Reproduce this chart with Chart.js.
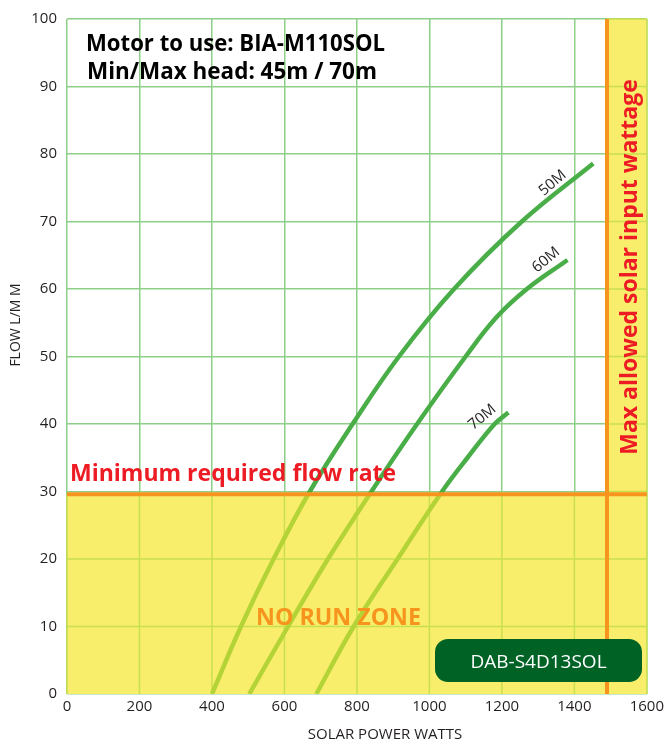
<!DOCTYPE html>
<html>
<head>
<meta charset="utf-8">
<script src="https://cdn.jsdelivr.net/npm/chart.js@4.4.1/dist/chart.umd.min.js"></script>
<style>
html,body{margin:0;padding:0;background:#fff;}
#wrap{width:668px;height:740px;position:relative;}
</style>
</head>
<body>
<div id="wrap"><canvas id="c" width="668" height="740"></canvas></div>
<script>
// ---- data ----
const seriesNames = ['50M', '60M', '70M'];
const watts50 = [400, 480, 570, 670, 788, 916, 1068, 1255, 1452];
const flow50  = [0, 10, 20, 30, 40, 50, 60, 70, 78.6];
const watts60 = [503, 610, 720, 840, 966, 1100, 1185, 1269, 1381];
const flow60  = [0, 10, 20, 30, 40, 50, 55.8, 60, 64.3];
const watts70 = [688, 791, 912, 1035, 1105, 1180, 1218];
const flow70  = [0, 10, 20, 30, 35, 40, 41.7];
const minFlow = 29.6;      // minimum required flow rate
const maxWatts = 1490;     // max allowed solar input wattage
const xTicks = [0, 200, 400, 600, 800, 1000, 1200, 1400, 1600];
const yTicks = [0, 10, 20, 30, 40, 50, 60, 70, 80, 90, 100];
// label anchors (data coords) for the curve names
const labelWatts = [1340, 1322, 1146];
const labelFlow  = [75.7, 64.3, 41.0];

const DARK = '#4aae48', LIGHT = '#b4d336', YELLOW = '#f8ee6c',
      GRID = '#8dcf87', GRID_Y = '#c8df4e', ORANGE = '#f7941d', RED = '#ed1c24', INK = '#231f20';
const FONT = "'Open Sans', 'Liberation Sans', sans-serif";

function pts(w, f){ return w.map((x,i)=>({x:x, y:f[i]})); }

function curveColor(ctx){
  const chart = ctx.chart, a = chart.chartArea;
  if(!a) return DARK;
  const y = chart.scales.y.getPixelForValue(minFlow);
  const t = Math.min(1, Math.max(0, (y - a.top)/(a.bottom - a.top)));
  const g = chart.ctx.createLinearGradient(0, a.top, 0, a.bottom);
  g.addColorStop(0, DARK); g.addColorStop(t, DARK);
  g.addColorStop(t, LIGHT); g.addColorStop(1, LIGHT);
  return g;
}

const zones = {
  id: 'zones',
  beforeDatasetsDraw(chart){
    const {ctx, chartArea:a, scales:{x, y}} = chart;
    const yMin = y.getPixelForValue(minFlow);
    const xMax = x.getPixelForValue(maxWatts);
    ctx.save();
    ctx.fillStyle = YELLOW;
    ctx.fillRect(a.left, yMin, a.right - a.left, a.bottom - yMin);
    ctx.fillRect(xMax, a.top, a.right - xMax, a.bottom - a.top);
    ctx.strokeStyle = GRID_Y; ctx.lineWidth = 1.5;
    ctx.beginPath();
    xTicks.forEach(v => {
      const px = x.getPixelForValue(v);
      ctx.moveTo(px, yMin); ctx.lineTo(px, a.bottom);
      if (v > maxWatts) { ctx.moveTo(px, a.top); ctx.lineTo(px, yMin); }
    });
    yTicks.forEach(v => {
      const py = y.getPixelForValue(v);
      if (v < minFlow && v > 0) { ctx.moveTo(a.left, py); ctx.lineTo(a.right, py); }
      else if (v >= minFlow) { ctx.moveTo(xMax, py); ctx.lineTo(a.right, py); }
    });
    ctx.stroke();
    ctx.restore();
  },
  afterDatasetsDraw(chart){
    const {ctx, chartArea:a, scales:{x, y}} = chart;
    const yMin = y.getPixelForValue(minFlow);
    const xMax = x.getPixelForValue(maxWatts);
    ctx.save();
    ctx.strokeStyle = ORANGE; ctx.lineWidth = 4;
    ctx.beginPath();
    ctx.moveTo(a.left, yMin); ctx.lineTo(a.right, yMin);
    ctx.moveTo(xMax, a.top); ctx.lineTo(xMax, a.bottom);
    ctx.stroke();

    // curve labels
    ctx.fillStyle = INK;
    ctx.font = "15px " + FONT;
    ctx.textAlign = 'center'; ctx.textBaseline = 'middle';
    seriesNames.forEach((n, i) => {
      ctx.save();
      ctx.translate(x.getPixelForValue(labelWatts[i]), y.getPixelForValue(labelFlow[i]));
      ctx.rotate(-40 * Math.PI / 180);
      ctx.fillText(n, 0, 0, 36);
      ctx.restore();
    });

    ctx.textBaseline = 'alphabetic';
    // header
    ctx.fillStyle = '#000';
    ctx.font = "bold 23px " + FONT;
    ctx.textAlign = 'center';
    ctx.fillText('Motor to use: BIA-M110SOL', 235.5, 51, 299);
    ctx.fillText('Min/Max head: 45m / 70m', 232, 79, 290);

    // min flow text
    ctx.fillStyle = RED;
    ctx.textAlign = 'left';
    ctx.fillText('Minimum required flow rate', 70, 481, 329);

    // no run zone
    ctx.fillStyle = ORANGE;
    ctx.font = "bold 24px " + FONT;
    ctx.fillText('NO RUN ZONE', 256, 625, 165);

    // max watts text (rotated)
    ctx.save();
    ctx.translate(637, 267);
    ctx.rotate(-Math.PI/2);
    ctx.fillStyle = RED;
    ctx.font = "bold 23px " + FONT;
    ctx.textAlign = 'center';
    ctx.fillText('Max allowed solar input wattage', 0, 0, 383);
    ctx.restore();

    // model badge
    ctx.fillStyle = '#006225';
    ctx.beginPath();
    ctx.roundRect(435, 639, 207, 43, 13);
    ctx.fill();
    ctx.fillStyle = '#ffffff';
    ctx.font = "19px " + FONT;
    ctx.textAlign = 'center';
    ctx.fillText('DAB-S4D13SOL', 538.5, 668, 144);
    ctx.restore();
  },
  afterDraw(chart){
    const ctx = chart.ctx;
    ctx.save();
    ctx.fillStyle = INK;
    ctx.font = "15px " + FONT;
    ctx.textAlign = 'center'; ctx.textBaseline = 'alphabetic';
    ctx.fillText('SOLAR POWER WATTS', 385, 739, 164);
    ctx.translate(20, 325);
    ctx.rotate(-Math.PI/2);
    ctx.font = "14px " + FONT;
    ctx.fillText('FLOW L/M M', 0, 0, 94);
    ctx.restore();
  }
};

const datasets = [[watts50, flow50], [watts60, flow60], [watts70, flow70]].map((d, i) => ({
  label: seriesNames[i],
  data: pts(d[0], d[1]),
  borderColor: curveColor,
  borderWidth: 4.5,
  pointRadius: 0,
  fill: false,
  tension: 0.4,
  borderCapStyle: 'butt'
}));

new Chart(document.getElementById('c'), {
  type: 'line',
  data: { datasets },
  options: {
    responsive: false,
    animation: false,
    events: [],
    layout: { padding: { left: 0, right: 17, top: 17, bottom: 0 } },
    plugins: { legend: { display: false }, tooltip: { enabled: false } },
    scales: {
      x: {
        type: 'linear', min: 0, max: 1600,
        afterBuildTicks(s){ s.ticks = xTicks.map(v => ({value: v})); },
        afterFit(s){ s.height = 46; },
        border: { display: false },
        grid: { color: GRID, lineWidth: 1.5, drawTicks: false },
        ticks: { color: INK, font: { family: FONT, size: 15 }, padding: 4, maxRotation: 0,
                 callback: v => String(v) }
      },
      y: {
        type: 'linear', min: 0, max: 100,
        afterBuildTicks(s){ s.ticks = yTicks.map(v => ({value: v})); },
        afterFit(s){ s.width = 67; },
        border: { display: false },
        grid: { color: GRID, lineWidth: 1.5, drawTicks: false },
        ticks: { color: INK, font: { family: FONT, size: 15 }, padding: 10,
                 callback: v => String(v) }
      }
    }
  },
  plugins: [zones]
});
</script>
</body>
</html>
